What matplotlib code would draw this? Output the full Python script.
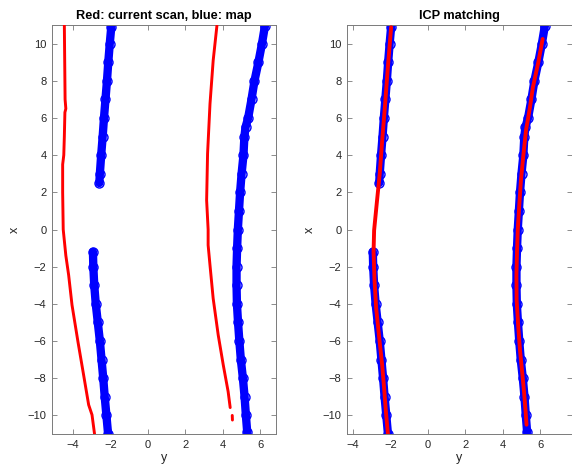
import matplotlib
matplotlib.use("Agg")
import matplotlib.pyplot as plt

# ---- data (horizontal axis = "y", vertical axis = "x") ----
# current scan (red, left plot)
scan_l_x = [11.0, 9.0, 7.0, 6.5, 6.3, 5.0, 4.0, 3.5, 2.0, 0.0, -1.4, -2.45, -4.06, -6.05, -7.82, -9.43, -9.97, -11.04]
scan_l_y = [-4.47, -4.45, -4.43, -4.39, -4.44, -4.47, -4.50, -4.56, -4.56, -4.53, -4.39, -4.24, -4.06, -3.74, -3.44, -3.17, -2.99, -2.85]
scan_r_x = [10.96, 9.09, 6.76, 4.08, 1.57, 0.0, -0.84, -1.92, -3.71, -5.68, -7.29, -8.72, -9.58]
scan_r_y = [3.69, 3.49, 3.32, 3.19, 3.14, 3.22, 3.22, 3.32, 3.49, 3.76, 4.03, 4.29, 4.40]
scan_t_x = [-10.0, -10.25]
scan_t_y = [4.51, 4.52]

# map (blue)
map_a_x = [2.5, 3.0, 4.0, 5.0, 6.0, 7.0, 8.0, 9.0, 10.0, 10.9]
map_a_y = [-2.60, -2.57, -2.50, -2.42, -2.35, -2.27, -2.19, -2.12, -2.04, -1.96]
map_b_x = [-1.2, -2.0, -3.0, -4.0, -5.0, -6.0, -7.0, -8.0, -9.0, -10.0, -11.0]
map_b_y = [-2.94, -2.92, -2.87, -2.79, -2.68, -2.57, -2.48, -2.39, -2.31, -2.22, -2.13]
map_c_x = [10.96, 10.0, 9.0, 8.0, 7.0, 6.0, 5.5, 5.0, 4.0, 3.0, 2.0, 1.0, 0.0, -1.0, -2.0, -3.0,
           -4.0, -5.0, -6.0, -7.0, -8.0, -9.0, -10.0, -10.9]
map_c_y = [6.26, 6.10, 5.91, 5.70, 5.54, 5.36, 5.22, 5.16, 5.11, 5.01, 4.93, 4.87, 4.81, 4.77, 4.74, 4.74,
           4.76, 4.82, 4.89, 4.97, 5.08, 5.17, 5.24, 5.31]

# matched scan after ICP (red, right plot)
icp_l_x = [10.88, 8.8, 6.76, 4.9, 3.0, 1.5, -0.04, -1.2, -2.7, -4.24, -5.8, -7.29, -8.6, -9.79, -11.04]
icp_l_y = [-1.96, -2.13, -2.28, -2.43, -2.57, -2.72, -2.87, -2.90, -2.85, -2.76, -2.60, -2.44, -2.33, -2.24, -2.13]
icp_r_x = [10.25, 9.0, 7.65, 6.5, 5.33, 4.0, 2.65, 1.3, 0.0, -1.2, -2.45, -3.8, -5.14, -6.5, -7.82, -8.8, -9.79, -10.5]
icp_r_y = [6.14, 5.91, 5.62, 5.45, 5.25, 5.11, 4.98, 4.89, 4.81, 4.77, 4.74, 4.75, 4.83, 4.93, 5.06, 5.15, 5.23, 5.28]

xticks = [-4, -2, 0, 2, 4, 6]
yticks = [-10, -8, -6, -4, -2, 0, 2, 4, 6, 8, 10]
titles = ["Red: current scan, blue: map", "ICP matching"]

plt.rcParams['font.family'] = ['Liberation Sans', 'DejaVu Sans']

W, H = 572, 470
fig = plt.figure(figsize=(W / 100, H / 100), dpi=100)
ax1 = fig.add_axes([52 / W, 1 - 434 / H, 224 / W, 409 / H])
ax2 = fig.add_axes([347 / W, 1 - 434 / H, 225 / W, 409 / H])

BLUE = '#0000ff'
RED = '#ff0000'
SPINE = '#7a7a7a'
TXT = '#262626'


def draw_map(ax):
    for xs, ys in [(map_a_x, map_a_y), (map_b_x, map_b_y), (map_c_x, map_c_y)]:
        ax.plot(ys, xs, '-', color=BLUE, lw=6.0, solid_capstyle='round', zorder=2)
        ax.plot(ys, xs, 'o', mfc='none', mec=BLUE, ms=6.5, mew=1.0, zorder=2)


draw_map(ax1)
for xs, ys in [(scan_l_x, scan_l_y), (scan_r_x, scan_r_y), (scan_t_x, scan_t_y)]:
    ax1.plot(ys, xs, '-', color=RED, lw=2.1, solid_capstyle='round', zorder=3)

draw_map(ax2)
for xs, ys in [(icp_l_x, icp_l_y), (icp_r_x, icp_r_y)]:
    ax2.plot(ys, xs, '-', color=RED, lw=2.8, solid_capstyle='round', zorder=3)

ax1.set_xlim(-5.13, 6.85)
ax2.set_xlim(-4.32, 7.71)

for ax, t in zip([ax1, ax2], titles):
    ax.set_ylim(-11, 11)
    ax.set_xticks(xticks)
    ax.set_yticks(yticks)
    ax.tick_params(direction='in', length=3.5, width=0.6, color=SPINE, labelcolor=TXT,
                   labelsize=8, top=True, right=True, pad=4)
    for s in ax.spines.values():
        s.set_color(SPINE)
        s.set_linewidth(0.7)
    ax.set_title(t, fontsize=9.2, fontweight='bold', color='black', pad=4)
    ax.set_xlabel('y', fontsize=9, color=TXT, labelpad=2)
    ax.set_ylabel('x', fontsize=9, color=TXT, labelpad=5)

fig.savefig('out.png', dpi=100)
